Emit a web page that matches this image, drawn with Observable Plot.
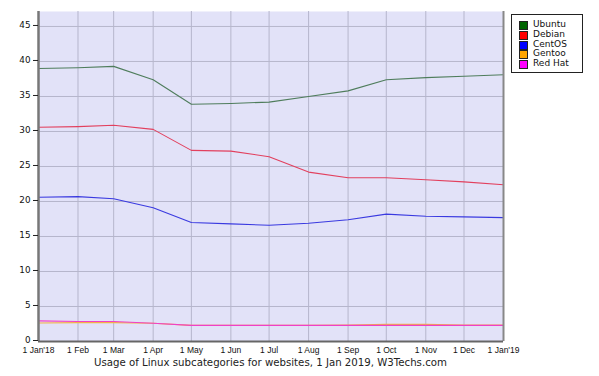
<!DOCTYPE html>
<html>
<head>
<meta charset="utf-8">
<script src="https://cdn.jsdelivr.net/npm/d3@7"></script>
<script src="https://cdn.jsdelivr.net/npm/@observablehq/plot@0.6"></script>
<style>
  html, body { margin: 0; padding: 0; background: #fff; }
  #wrap { position: relative; width: 599px; height: 376px; }
  #caption { position: absolute; left: 38px; width: 465px; top: 357px; text-align: center;
    font-family: "DejaVu Sans", sans-serif; font-size: 10.2px; color: #222; }
  #legend { position: absolute; left: 511px; top: 14px; width: 70px; height: 57px;
    border: 1px solid #222; background: #fff; font-family: "DejaVu Sans", sans-serif; font-size: 9px; }
  .item { position: absolute; left: 7px; height: 10px; line-height: 10px; }
  .sw { position: absolute; left: 0; top: 1px; width: 7px; height: 7px; border: 1px solid #222; }
  .lb { position: absolute; left: 14px; top: -1px; white-space: nowrap; color: #111; }
</style>
</head>
<body>
<div id="wrap"><div id="chart"></div><div id="legend"></div><div id="caption">Usage of Linux subcategories for websites, 1 Jan 2019, W3Techs.com</div></div>
<script>
const months = ["2018-01-01","2018-02-01","2018-03-01","2018-04-01","2018-05-01","2018-06-01","2018-07-01","2018-08-01","2018-09-01","2018-10-01","2018-11-01","2018-12-01","2019-01-01"];
const monthLabels = ["1 Jan'18","1 Feb","1 Mar","1 Apr","1 May","1 Jun","1 Jul","1 Aug","1 Sep","1 Oct","1 Nov","1 Dec","1 Jan'19"];
const yTicks = [0,5,10,15,20,25,30,35,40,45];
const seriesNames = ["Ubuntu","Debian","CentOS","Gentoo","Red Hat"];
const ubuntu = [39.0,39.1,39.3,37.4,33.9,34.0,34.2,35.0,35.8,37.4,37.7,37.9,38.1];
const debian = [30.6,30.7,30.9,30.3,27.3,27.2,26.4,24.2,23.4,23.4,23.1,22.8,22.4];
const centos = [20.6,20.7,20.4,19.1,17.0,16.8,16.6,16.9,17.4,18.2,17.9,17.8,17.7];
const gentoo = [2.65,2.7,2.7,2.6,2.3,2.3,2.3,2.3,2.35,2.45,2.45,2.35,2.35];
const redhat = [2.95,2.85,2.85,2.6,2.3,2.3,2.3,2.3,2.3,2.3,2.3,2.3,2.3];
const lineColors = ["#4f7d5c","#e2405e","#3a3ae0","#f2b24a","#f040c8"];
const swatchColors = ["#006400","#ff0000","#0000ff","#ffa500","#ff00ff"];

const dates = months.map(s => new Date(s + "T00:00:00Z"));
const labelMap = new Map(dates.map((d, i) => [+d, monthLabels[i]]));
const allValues = [ubuntu, debian, centos, gentoo, redhat];
const rows = [];
allValues.forEach((vals, k) => vals.forEach((v, i) => rows.push({series: seriesNames[k], date: dates[i], value: v})));

const chart = Plot.plot({
  width: 599,
  height: 356,
  marginTop: 11,
  marginBottom: 15,
  marginLeft: 38,
  marginRight: 96,
  style: {background: "#fff", fontFamily: "DejaVu Sans, sans-serif", color: "#111", overflow: "visible"},
  x: {type: "utc", domain: [dates[0], dates[dates.length - 1]]},
  y: {domain: [0, 47.14]},
  color: {domain: seriesNames, range: lineColors},
  marks: [
    Plot.frame({fill: "#e2e2f8", stroke: null}),
    Plot.gridX(dates.slice(1, -1), {stroke: "#b6b6cc", strokeOpacity: 1, strokeWidth: 1}),
    Plot.gridY(yTicks.slice(1), {stroke: "#b6b6cc", strokeOpacity: 1, strokeWidth: 1}),
    ...seriesNames.map(name => Plot.line(rows.filter(r => r.series === name), {x: "date", y: "value", stroke: "series", strokeWidth: 1.1})),
    Plot.ruleX([dates[0]], {stroke: "#777", strokeWidth: 2.5}),
    Plot.ruleX([dates[dates.length - 1]], {stroke: "#888", strokeWidth: 2}),
    Plot.ruleY([0], {stroke: "#666", strokeWidth: 2}),
    Plot.axisY({ticks: yTicks, tickSize: 5, tickPadding: 3, fontSize: 8.8, stroke: "#222", label: null, dy: -1}),
    Plot.axisX({ticks: dates, tickFormat: d => labelMap.get(+d), tickSize: 0, tickPadding: 5.5, fontSize: 8.5, fontFamily: "Liberation Sans, Arial, sans-serif", label: null})
  ]
});
document.getElementById("chart").appendChild(chart);

const legend = document.getElementById("legend");
seriesNames.forEach((name, i) => {
  const item = document.createElement("div");
  item.className = "item";
  item.style.top = (5 + i * 9.8) + "px";
  item.innerHTML = `<div class="sw" style="background:${swatchColors[i]}"></div><div class="lb">${name}</div>`;
  legend.appendChild(item);
});
</script>
</body>
</html>
